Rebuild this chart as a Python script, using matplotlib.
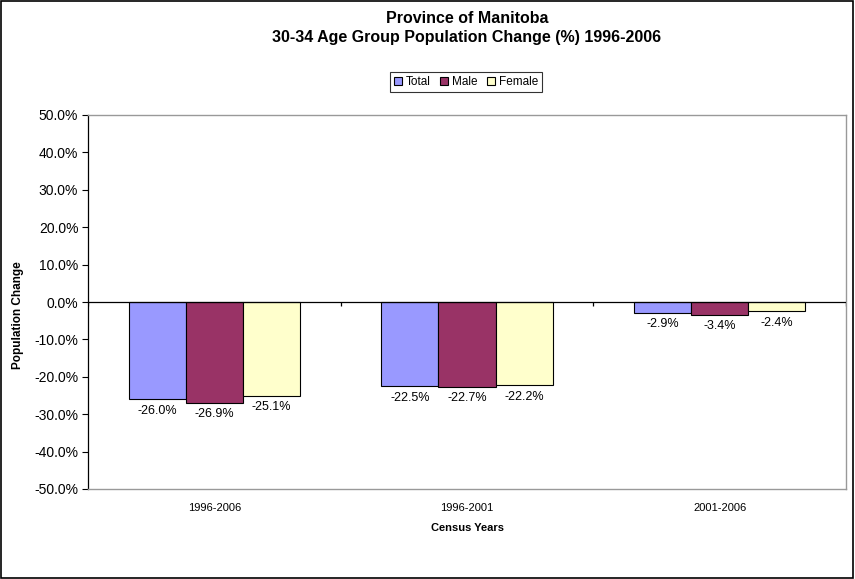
import matplotlib.pyplot as plt
import numpy as np
from matplotlib.patches import Rectangle
from matplotlib.ticker import FuncFormatter

plt.rcParams['font.family'] = ['Liberation Sans', 'DejaVu Sans']

# データ
periods = ['1996-2006', '1996-2001', '2001-2006']
total = [-26.0, -22.5, -2.9]
male = [-26.9, -22.7, -3.4]
female = [-25.1, -22.2, -2.4]
series_names = ['Total', 'Male', 'Female']
colors = ['#9999FF', '#993366', '#FFFFCC']


def main():
    fig = plt.figure(figsize=(8.55, 5.79), dpi=100)
    ax = fig.add_axes([88 / 855, 1 - 489 / 579, (846 - 88) / 855, (489 - 115) / 579])

    x = np.arange(len(periods))
    w = 0.226
    for k, (vals, name, c) in enumerate(zip([total, male, female], series_names, colors)):
        ax.bar(x + (k - 1) * w, vals, w, color=c, edgecolor='black', linewidth=0.8, label=name, zorder=3)
        for xi, v in zip(x + (k - 1) * w, vals):
            ax.annotate(f'{v:.1f}%', (xi, v), xytext=(0, -4), textcoords='offset points',
                        ha='center', va='top', fontsize=9)

    ax.set_xlim(-0.5, len(periods) - 0.5)
    ax.set_ylim(-50, 50)
    ax.set_yticks(np.arange(-50, 51, 10))
    ax.yaxis.set_major_formatter(FuncFormatter(lambda v, p: f'{v:.1f}%'))
    ax.tick_params(axis='y', direction='out', length=4, labelsize=10, width=0.8, pad=3)
    ax.set_xticks(x)
    ax.set_xticklabels(periods)
    ax.tick_params(axis='x', length=0, labelsize=8, pad=10)

    # ゼロ線と区切り目盛り
    ax.axhline(0, color='black', linewidth=0.9, zorder=4)
    ax.vlines(np.arange(len(periods) + 1) - 0.5, -1.2, 0, color='black', linewidth=0.9, zorder=4)

    for s in ['top', 'right', 'bottom']:
        ax.spines[s].set_color('#999999')
        ax.spines[s].set_linewidth(1.0)
    ax.spines['left'].set_color('black')
    ax.spines['left'].set_linewidth(0.9)

    fig.text(18 / 855, 1 - 315 / 579, 'Population Change', rotation=90, ha='center', va='center',
             fontsize=8.5, fontweight='bold')
    ax.set_xlabel('Census Years', fontsize=8, fontweight='bold', labelpad=7)

    fig.text(467 / 855, 1 - 28 / 579, 'Province of Manitoba\n30-34 Age Group Population Change (%) 1996-2006',
             ha='center', va='center', fontsize=11.5, fontweight='bold', linespacing=1.4)

    leg = ax.legend(loc='center', bbox_to_anchor=(466 / 855, 1 - 82 / 579), bbox_transform=fig.transFigure,
                    ncol=3, fontsize=8.5, frameon=True, fancybox=False, handlelength=0.7, handleheight=0.7,
                    handletextpad=0.3, columnspacing=0.8, borderpad=0.3, borderaxespad=0)
    leg.get_frame().set_edgecolor('black')
    leg.get_frame().set_linewidth(0.8)

    fig.patches.append(Rectangle((0.001, 0.001), 0.997, 0.997, transform=fig.transFigure,
                                 fill=False, edgecolor='black', linewidth=1.2))

    fig.savefig('out.png', dpi=100)


if __name__ == "__main__":
    main()
